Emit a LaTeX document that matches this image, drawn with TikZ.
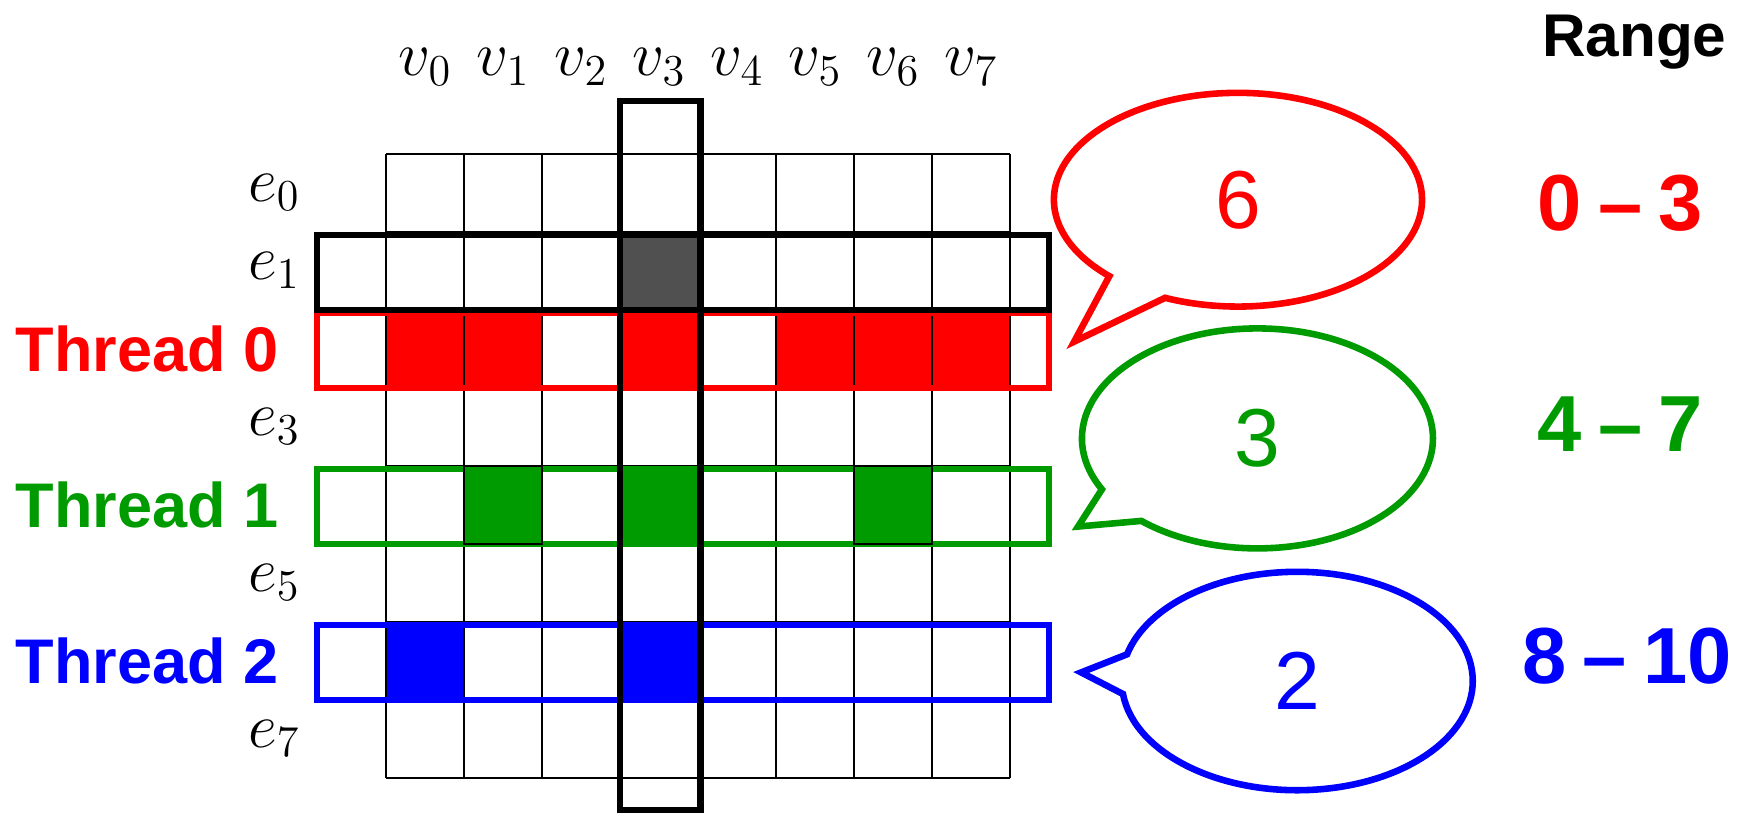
\RequirePackage{fix-cm}
\documentclass[tikz,border=0pt]{standalone}
\usepackage{fontspec}
\setsansfont{Liberation Sans}
\usetikzlibrary{shapes.callouts}

\definecolor{tred}{RGB}{255,0,0}
\definecolor{tgreen}{RGB}{0,155,0}
\definecolor{tblue}{RGB}{0,0,255}
\definecolor{cellgray}{RGB}{80,80,80}
\newcommand{\rng}[2]{#1\hspace{0.2em}–\hspace{0.2em}#2}

\begin{document}
\begin{tikzpicture}[
        gridline/.style={draw=black, line width=0.65pt},
        rowbox/.style={line width=2.2pt},
        selbox/.style={draw=black, line width=2.2pt},
        mlabel/.style={inner sep=0pt, font=\fontsize{23}{27}\selectfont},
        tlabel/.style={inner sep=0pt, anchor=east, font=\sffamily\bfseries\fontsize{23}{27}\selectfont},
        rlabel/.style={inner sep=0pt, anchor=base, font=\sffamily\bfseries\fontsize{29}{34}\selectfont},
        bubble/.style={
            ellipse callout, line width=2.4pt, inner sep=0pt,
            callout pointer arc=21, font=\sffamily\fontsize{30}{36}\selectfont
        }
    ]
    \useasboundingbox (-4.95,1.97) rectangle (17.42,-8.445);

    % --- Filled cells ---
    \fill[cellgray] (3,-1) rectangle (4,-2);
    \foreach \c in {0,1,3,5,6,7} \fill[tred] (\c,-2) rectangle ++(1,-1);
    \foreach \c in {1,3,6} \fill[tgreen] (\c,-4) rectangle ++(1,-1);
    \foreach \c in {0,3} \fill[tblue] (\c,-6) rectangle ++(1,-1);

    % --- Grid ---
    \draw[gridline] (0,0) grid (8,-8);

    % --- Thread rows ---
    \draw[rowbox, draw=tred] (-0.885,-2.04) rectangle (8.5,-3);
    \draw[rowbox, draw=tgreen] (-0.885,-4.04) rectangle (8.5,-5);
    \draw[rowbox, draw=tblue] (-0.885,-6.04) rectangle (8.5,-7);
    \foreach \c in {1,6} \draw[gridline, fill=tgreen] (\c,-4) rectangle ++(1,-1);

    % --- Selected edge and vertex ---
    \draw[selbox] (-0.885,-1.04) rectangle (8.5,-2);
    \draw[selbox] (3,0.67) rectangle (4.03,-8.41);

    % --- Labels ---
    \foreach \i in {0,...,7} \node[mlabel, anchor=base] (v\i) at (\i+0.5,1.0) {$v_{\i}$};
    \foreach \r in {0,1,3,5,7} \node[mlabel, anchor=base east] (e\r) at (-1.1,-\r-0.61) {$e_{\r}$};

    \node[tlabel, text=tred] (th0) at (-1.37,-2.5) {Thread 0};
    \node[tlabel, text=tgreen] (th1) at (-1.37,-4.5) {Thread 1};
    \node[tlabel, text=tblue] (th2) at (-1.37,-6.5) {Thread 2};

    \node[inner sep=0pt, anchor=base, font=\sffamily\bfseries\fontsize{22}{26}\selectfont] (range) at (16.0,1.24) {Range};
    \node[rlabel, text=tred] (r0) at (15.82,-0.98) {\rng{0}{3}};
    \node[rlabel, text=tgreen] (r1) at (15.82,-3.82) {\rng{4}{7}};
    \node[rlabel, text=tblue] (r2) at (15.91,-6.79) {\rng{8}{10}};

    % --- Counts ---
    \coordinate (tip0) at (8.82,-2.41);
    \coordinate (tip1) at (8.87,-4.78);
    \coordinate (tip2) at (8.91,-6.65);
    \node[bubble, draw=tred, text=tred, minimum width=4.72cm, minimum height=2.74cm,
        callout absolute pointer={(tip0)}] (cnt0) at (10.92,-0.59) {6};
    \node[bubble, draw=tgreen, text=tgreen, minimum width=4.5cm, minimum height=2.82cm,
        callout absolute pointer={(tip1)}] (cnt1) at (11.17,-3.65) {3};
    \node[bubble, draw=tblue, text=tblue, minimum width=4.5cm, minimum height=2.8cm,
        callout absolute pointer={(tip2)}] (cnt2) at (11.68,-6.76) {2};

\end{tikzpicture}
\end{document}
